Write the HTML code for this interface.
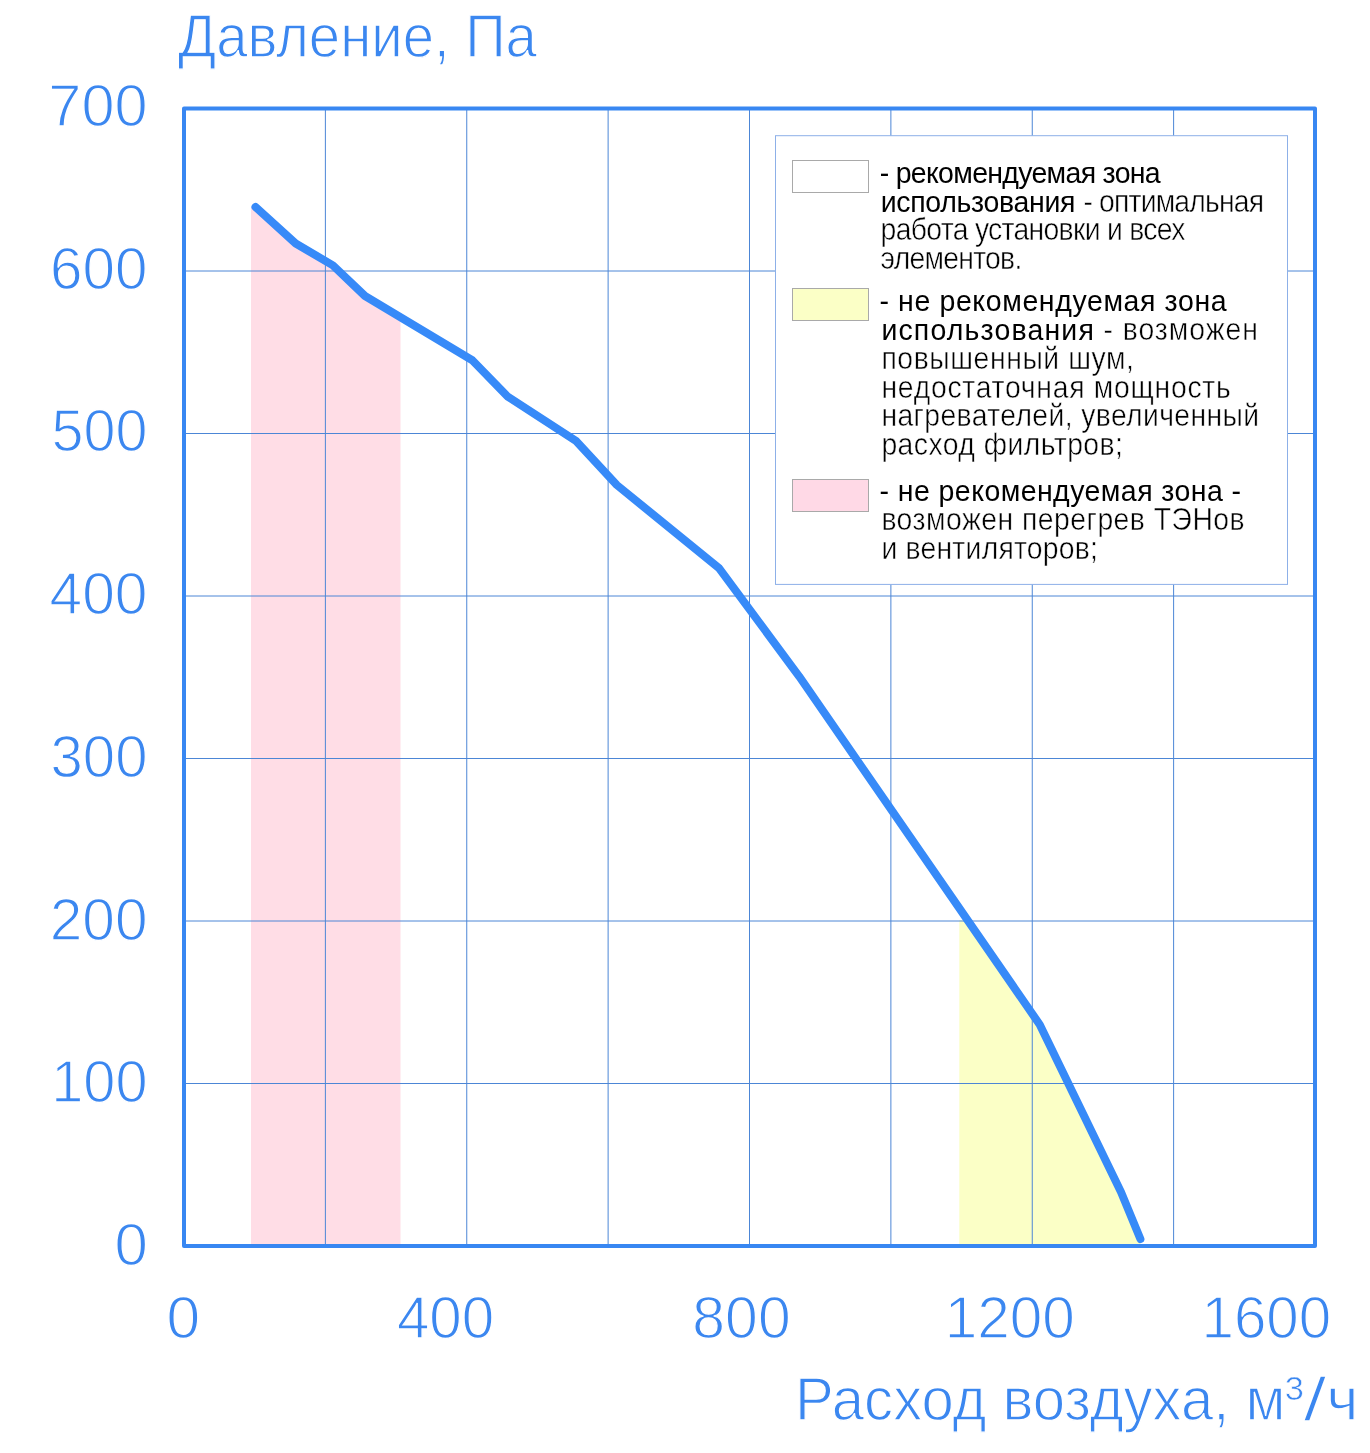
<!DOCTYPE html>
<html lang="ru"><head><meta charset="utf-8"><title>Давление / Расход воздуха</title>
<style>html,body{margin:0;padding:0;background:#fff}body{width:1370px;height:1453px;overflow:hidden}svg{display:block;will-change:transform}text{font-family:"Liberation Sans",sans-serif}.b{fill:#3b87f0;stroke:#fff;stroke-width:1.3px}.s{stroke-width:.6px}.k{fill:#000}.l{fill:#000;stroke:#fff;stroke-width:0.5px}</style></head><body>
<svg width="1370" height="1453" viewBox="0 0 1370 1453">
<rect width="1370" height="1453" fill="#fff"/>
<polygon fill="#ffdde6" points="251.0,1244.0 251.0,207.0 255.5,207.0 295.7,243.5 332.9,265.4 365.0,296.0 400.5,317.2 400.5,1244.0"/>
<polygon fill="#fbffc6" points="959.3,1244.0 959.3,920.0 968.6,921.0 1039.8,1024.7 1121.1,1192.3 1140.4,1239.0 1140.4,1244.0"/>
<path d="M325.38 108.5V1246.0M466.75 108.5V1246.0M608.12 108.5V1246.0M749.50 108.5V1246.0M890.88 108.5V1246.0M1032.25 108.5V1246.0M1173.62 108.5V1246.0" stroke="#4c86d6" stroke-width="1" fill="none"/>
<path d="M184.0 1083.50H1315.0M184.0 921.00H1315.0M184.0 758.50H1315.0M184.0 596.00H1315.0M184.0 433.50H1315.0M184.0 271.00H1315.0" stroke="#4c86d6" stroke-width="1" fill="none"/>
<polyline fill="none" stroke="#378af8" stroke-width="8" stroke-linecap="round" stroke-linejoin="round" points="255.5,207.0 295.7,243.5 332.9,265.4 365.0,296.0 472.3,360.2 507.3,396.3 576.3,441.2 616.8,485.0 719.0,568.1 799.1,676.3 1039.8,1024.7 1121.1,1192.3 1140.4,1239.0"/>
<rect x="184.0" y="108.5" width="1131.0" height="1137.5" fill="none" stroke="#3887f2" stroke-width="4" stroke-linejoin="round"/>
<rect x="775.5" y="135.7" width="512" height="448.7" fill="#fff" stroke="#8db0e8" stroke-width="1"/>
<rect x="792.5" y="160.5" width="76" height="32" fill="#fff" stroke="#a9a9a9" stroke-width="1"/>
<rect x="792.5" y="288.5" width="76" height="32" fill="#fbffc6" stroke="#a9a9a9" stroke-width="1"/>
<rect x="792.5" y="479.5" width="76" height="32" fill="#ffd9e6" stroke="#a9a9a9" stroke-width="1"/>
<text class="b" x="178.09" y="56.8" font-size="61.5" textLength="358.80" lengthAdjust="spacingAndGlyphs">Давление, Па</text>
<text class="b" x="48.33" y="125.9" font-size="60" textLength="99.25" lengthAdjust="spacingAndGlyphs">700</text>
<text class="b" x="50.11" y="288.7" font-size="60" textLength="97.42" lengthAdjust="spacingAndGlyphs">600</text>
<text class="b" x="51.57" y="451.4" font-size="60" textLength="95.91" lengthAdjust="spacingAndGlyphs">500</text>
<text class="b" x="49.54" y="614.1" font-size="60" textLength="98.00" lengthAdjust="spacingAndGlyphs">400</text>
<text class="b" x="50.49" y="776.9" font-size="60" textLength="97.02" lengthAdjust="spacingAndGlyphs">300</text>
<text class="b" x="49.79" y="939.6" font-size="60" textLength="97.74" lengthAdjust="spacingAndGlyphs">200</text>
<text class="b" x="51.19" y="1102.4" font-size="60" textLength="96.30" lengthAdjust="spacingAndGlyphs">100</text>
<text class="b" x="114.50" y="1265.1" font-size="60" textLength="33.38" lengthAdjust="spacingAndGlyphs">0</text>
<text class="b" x="166.48" y="1337.9" font-size="60" textLength="33.62" lengthAdjust="spacingAndGlyphs">0</text>
<text class="b" x="396.96" y="1337.9" font-size="60" textLength="97.26" lengthAdjust="spacingAndGlyphs">400</text>
<text class="b" x="692.35" y="1337.9" font-size="60" textLength="98.30" lengthAdjust="spacingAndGlyphs">800</text>
<text class="b" x="944.63" y="1337.9" font-size="60" textLength="130.07" lengthAdjust="spacingAndGlyphs">1200</text>
<text class="b" x="1201.54" y="1337.9" font-size="60" textLength="129.64" lengthAdjust="spacingAndGlyphs">1600</text>
<text class="b" x="795.04" y="1419.8" font-size="61.5" textLength="490.43" lengthAdjust="spacingAndGlyphs">Расход воздуха, м</text>
<text class="b s" x="1284.77" y="1399.5" font-size="34" textLength="19.17" lengthAdjust="spacingAndGlyphs">3</text>
<text class="b" x="1303.46" y="1419.8" font-size="61.5" textLength="22.91" lengthAdjust="spacingAndGlyphs">/</text>
<text class="b" x="1326.52" y="1419.8" font-size="61.5" textLength="31.91" lengthAdjust="spacingAndGlyphs">ч</text>
<text class="k" transform="translate(879.70,182.8) scale(0.95,1)" font-size="30.0" textLength="295.76" lengthAdjust="spacing">- рекомендуемая зона</text>
<text class="k" transform="translate(880.70,211.5) scale(0.95,1)" font-size="30.0" textLength="204.96" lengthAdjust="spacing">использования</text>
<text class="l" transform="translate(1083.40,211.7) scale(0.92,1)" font-size="30.8" textLength="196.37" lengthAdjust="spacing">- оптимальная</text>
<text class="l" transform="translate(880.60,240.4) scale(0.92,1)" font-size="30.8" textLength="331.38" lengthAdjust="spacing">работа установки и всех</text>
<text class="l" transform="translate(880.60,269.1) scale(0.92,1)" font-size="30.8" textLength="154.01" lengthAdjust="spacing">элементов.</text>
<text class="k" transform="translate(879.50,310.7) scale(0.95,1)" font-size="30.0" textLength="365.36" lengthAdjust="spacing">- не рекомендуемая зона</text>
<text class="k" transform="translate(881.40,339.6) scale(0.95,1)" font-size="30.0" textLength="223.64" lengthAdjust="spacing">использования</text>
<text class="l" transform="translate(1103.60,339.8) scale(0.92,1)" font-size="30.8" textLength="167.71" lengthAdjust="spacing">- возможен</text>
<text class="l" transform="translate(881.40,368.6) scale(0.92,1)" font-size="30.8" textLength="274.44" lengthAdjust="spacing">повышенный шум,</text>
<text class="l" transform="translate(881.40,397.5) scale(0.92,1)" font-size="30.8" textLength="379.77" lengthAdjust="spacing">недостаточная мощность</text>
<text class="l" transform="translate(881.40,426.4) scale(0.92,1)" font-size="30.8" textLength="410.61" lengthAdjust="spacing">нагревателей, увеличенный</text>
<text class="l" transform="translate(881.40,455.2) scale(0.92,1)" font-size="30.8" textLength="262.52" lengthAdjust="spacing">расход фильтров;</text>
<text class="k" transform="translate(879.50,500.7) scale(0.95,1)" font-size="30.0" textLength="380.66" lengthAdjust="spacing">- не рекомендуемая зона -</text>
<text class="l" transform="translate(881.40,529.9) scale(0.92,1)" font-size="30.8" textLength="394.81" lengthAdjust="spacing">возможен перегрев ТЭНов</text>
<text class="l" transform="translate(881.40,558.8) scale(0.92,1)" font-size="30.8" textLength="235.39" lengthAdjust="spacing">и вентиляторов;</text>
</svg></body></html>
